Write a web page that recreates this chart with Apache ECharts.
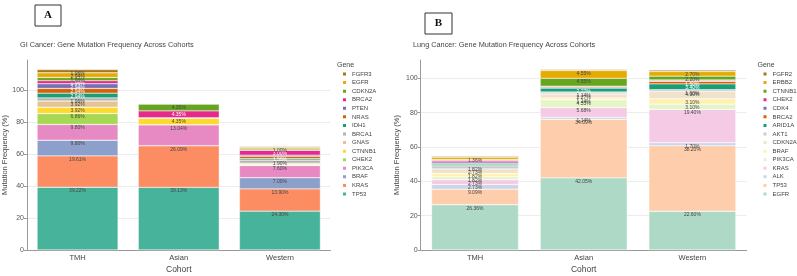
<!DOCTYPE html>
<html>
<head>
<meta charset="utf-8">
<script src="https://cdn.jsdelivr.net/npm/echarts@6/dist/echarts.min.js"></script>
<style>
  html, body { margin: 0; padding: 0; background: #fff; }
  #a { position: absolute; left: 0; top: 0; width: 400px; height: 276px; }
  #b { position: absolute; left: 385px; top: 0; width: 412px; height: 276px; }
</style>
</head>
<body>
<div id="a"></div>
<div id="b"></div>
<script>
const cohorts = ['TMH', 'Asian', 'Western']
const yTicks = [0, 20, 40, 60, 80, 100]

// GI cancer, stack order bottom -> top
const giGenes = ['TP53', 'KRAS', 'BRAF', 'PIK3CA', 'CHEK2', 'CTNNB1', 'GNAS', 'BRCA1', 'IDH1', 'NRAS', 'PTEN', 'BRCA2', 'CDKN2A', 'EGFR', 'FGFR3']
const giTMH = [39.22, 19.61, 9.80, 9.80, 6.86, 3.92, 3.92, 1.96, 2.94, 2.94, 2.94, 1.96, 1.96, 2.94, 1.96]
const giAsian = [39.13, 26.09, 0, 13.04, 0, 4.35, 0, 0, 0, 0, 0, 4.35, 4.35, 0, 0]
const giWestern = [24.30, 13.90, 7.00, 7.60, 0.30, 0.60, 0.60, 1.90, 0.80, 1.50, 0.80, 3.00, 0.80, 1.00, 0.60]

// Lung cancer, stack order bottom -> top
const lungGenes = ['EGFR', 'TP53', 'ALK', 'KRAS', 'PIK3CA', 'BRAF', 'CDKN2A', 'AKT1', 'ARID1A', 'BRCA2', 'CDK4', 'CHEK2', 'CTNNB1', 'ERBB2', 'FGFR2']
const lungTMH = [26.36, 9.09, 2.73, 2.73, 1.82, 1.82, 2.73, 1.82, 0.91, 0.45, 0.91, 0.91, 0.45, 1.36, 0.45]
const lungAsian = [42.05, 34.09, 1.14, 5.68, 4.55, 1.14, 2.27, 1.14, 2.27, 0.57, 0.57, 0, 4.55, 4.55, 0.57]
const lungWestern = [22.60, 38.20, 1.70, 19.40, 3.10, 3.10, 4.30, 1.00, 3.40, 1.50, 0.50, 0.30, 2.20, 2.70, 0.80]

const giColors = ['#48b39b', '#fc8d62', '#8da0cb', '#e78ac3', '#a6d854', '#ffd92f', '#e5c494', '#b3b3b3',
  '#1b9e77', '#d95f02', '#7570b3', '#e7298a', '#66a61e', '#e6ab02', '#a6761d']
const lungColors = ['#add9c6', '#fdcdac', '#cbd5e8', '#f4cae4', '#e6f5c9', '#fff2ae', '#f1e2cc', '#cccccc',
  '#1b9e77', '#d95f02', '#7570b3', '#e7298a', '#66a61e', '#e6ab02', '#a6761d']
const darkFill = ['#1b9e77', '#d95f02', '#7570b3', '#e7298a']

const font = '"Liberation Sans", Arial, sans-serif'

function panel(el, cfg) {
  const chart = echarts.init(el)
  const series = cfg.genes.map((g, i) => ({
    name: g,
    type: 'bar',
    stack: 'total',
    barWidth: '80%',
    data: [cfg.tmh[i], cfg.asian[i], cfg.western[i]],
    itemStyle: { color: cfg.colors[i], borderColor: '#fff', borderWidth: 0.4 },
    label: {
      show: true,
      position: 'insideTop',
      distance: 1,
      fontSize: 5,
      fontFamily: font,
      color: darkFill.includes(cfg.colors[i]) ? '#fff' : '#444',
      formatter: (p) => (p.value >= 1 ? p.value.toFixed(2) + '%' : ''),
    },
  }))

  chart.setOption({
    backgroundColor: 'transparent',
    animation: false,
    textStyle: { fontFamily: font },
    title: [
      {
        text: cfg.title, left: cfg.titleX, top: 41, padding: 0,
        textStyle: { fontSize: 7.3, fontWeight: 'normal', color: '#444', fontFamily: font },
      },
      {
        text: 'Gene', left: cfg.legendX - 4, top: 62, padding: 0,
        textStyle: { fontSize: 7, fontWeight: 'normal', color: '#444', fontFamily: font },
      },
    ],
    graphic: [
      {
        type: 'rect',
        shape: { x: cfg.box[0], y: cfg.box[1], width: cfg.box[2], height: cfg.box[3] },
        style: { fill: 'none', stroke: '#333', lineWidth: 1 },
      },
      {
        type: 'text',
        x: cfg.box[0] + cfg.box[2] / 2,
        y: cfg.box[1] + cfg.box[3] / 2,
        style: {
          text: cfg.letter, align: 'center', verticalAlign: 'middle',
          font: 'bold 11px "Liberation Serif", "DejaVu Serif", serif', fill: '#111',
        },
      },
    ],
    legend: {
      orient: 'vertical',
      left: cfg.legendX, top: 70.5,
      padding: 0,
      icon: 'rect',
      itemWidth: 5, itemHeight: 5,
      itemGap: 1.57,
      data: cfg.genes.slice().reverse(),
      textStyle: { fontSize: 6, lineHeight: 7, color: '#444', fontFamily: font },
    },
    grid: { left: cfg.gridLeft, top: 60, width: cfg.gridWidth, height: 190, outerBoundsMode: 'none' },
    xAxis: {
      type: 'category',
      data: cohorts,
      name: 'Cohort',
      nameLocation: 'middle',
      nameGap: 15,
      nameMoveOverlap: false,
      nameTextStyle: { fontSize: 8.5, color: '#444' },
      axisLine: { lineStyle: { color: '#999' } },
      axisTick: { alignWithLabel: true, length: 3, lineStyle: { color: '#999' } },
      axisLabel: { fontSize: 7.5, color: '#444', margin: 4 },
    },
    yAxis: {
      type: 'value',
      min: yTicks[0],
      max: cfg.yMax,
      interval: yTicks[1] - yTicks[0],
      name: 'Mutation Frequency (%)',
      nameLocation: 'middle',
      nameGap: cfg.nameGap,
      nameMoveOverlap: false,
      nameTextStyle: { fontSize: 7.5, color: '#444' },
      axisLine: { show: true, lineStyle: { color: '#999' } },
      axisTick: { show: true, length: 3, lineStyle: { color: '#999' } },
      axisLabel: { fontSize: 7, color: '#555', margin: 3, showMaxLabel: false },
      splitLine: { showMaxLine: false, lineStyle: { color: '#ececec' } },
    },
    series,
  })
  return chart
}

panel(document.getElementById('a'), {
  title: 'GI Cancer: Gene Mutation Frequency Across Cohorts',
  titleX: 20,
  letter: 'A',
  box: [35, 5, 26, 21],
  genes: giGenes, tmh: giTMH, asian: giAsian, western: giWestern, colors: giColors,
  gridLeft: 27, gridWidth: 303.5, yMax: 118.75, nameGap: 18,
  legendX: 341,
})

// this div starts at x = 385
panel(document.getElementById('b'), {
  title: 'Lung Cancer: Gene Mutation Frequency Across Cohorts',
  titleX: 28,
  letter: 'B',
  box: [40, 13, 27, 21],
  genes: lungGenes, tmh: lungTMH, asian: lungAsian, western: lungWestern, colors: lungColors,
  gridLeft: 35.7, gridWidth: 326, yMax: 110.7, nameGap: 20,
  legendX: 376.5,
})
</script>
</body>
</html>
